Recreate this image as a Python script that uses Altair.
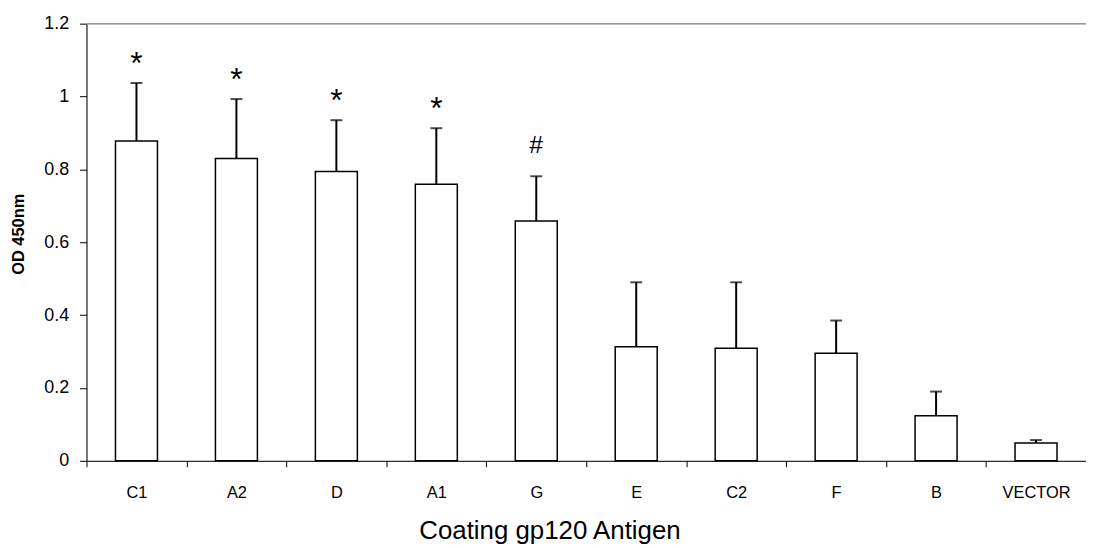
import altair as alt
import pandas as pd

categories = ["C1", "A2", "D", "A1", "G", "E", "C2", "F", "B", "VECTOR"]
means = [0.878, 0.830, 0.794, 0.759, 0.658, 0.313, 0.309, 0.295, 0.124, 0.049]
upper = [1.037, 0.993, 0.935, 0.913, 0.781, 0.490, 0.490, 0.385, 0.190, 0.057]
marks = ["*", "*", "*", "*", "#", "", "", "", "", ""]
yticks = [0, 0.2, 0.4, 0.6, 0.8, 1.0, 1.2]
y_title = "OD 450nm"

df = pd.DataFrame({"cat": categories, "mean": means, "upper": upper, "mark": marks})

W, H = 1006, 440
FONT = "Liberation Sans"

yscale = alt.Scale(domain=[0, 1.2], nice=False)
xscale = alt.Scale(paddingInner=0, paddingOuter=0)

xaxis = alt.Axis(title="Coating gp120 Antigen", labelAngle=0, tickBand="extent",
                 tickSize=6, tickColor="black", tickWidth=1, domainColor="black",
                 labelFontSize=16.5, labelFont=FONT, labelColor="black",
                 labelBaseline="alphabetic", labelPadding=31,
                 titleFont=FONT, titleFontSize=26, titleFontWeight="normal",
                 titleColor="black", titleBaseline="alphabetic",
                 titleX=466, titleY=78, titleAnchor="start", titleAlign="center")
yaxis = alt.Axis(title=None, values=yticks,
                 format="~g", grid=False, tickSize=7, tickColor="black",
                 domainColor="black", labelFontSize=18, labelFont=FONT,
                 labelColor="black", labelPadding=11)


def X():
    return alt.X("cat:N", sort=categories, scale=xscale, axis=xaxis)


def Y(field):
    return alt.Y(field, scale=yscale, axis=yaxis)


base = alt.Chart(df)

bars = base.mark_bar(fill="white", stroke="black", strokeWidth=1.5,
                     width=alt.RelativeBandSize(0.42)).encode(x=X(), y=Y("mean:Q"))
rules = base.mark_rule(color="black", strokeWidth=2).encode(
    x=X(), y=Y("mean:Q"), y2="upper:Q")
caps = base.mark_tick(color="black", size=12, thickness=2).encode(
    x=X(), y=Y("upper:Q"))
stars = base.transform_filter(alt.datum.mark == "*").mark_text(
    font=FONT, fontSize=32, baseline="alphabetic", dy=-9, color="black").encode(
    x=X(), y=Y("upper:Q"), text="mark:N")
hashes = base.transform_filter(alt.datum.mark == "#").mark_text(
    font=FONT, fontSize=25, baseline="alphabetic", dy=-23, color="black").encode(
    x=X(), y=Y("upper:Q"), text="mark:N")
top_line = alt.Chart(pd.DataFrame({"v": [1.2]})).mark_rule(
    color="#999999", strokeWidth=1.5).encode(y=Y("v:Q"))
ytitle = alt.Chart(pd.DataFrame({"t": [y_title]})).mark_text(
    font=FONT, fontSize=16.5, fontWeight="bold", angle=270, baseline="middle",
    align="center", color="black").encode(
    x=alt.value(-68), y=alt.value(212), text="t:N")

chart = alt.layer(bars, top_line, rules, caps, stars, hashes, ytitle).properties(
    width=W, height=H,
    autosize=alt.AutoSizeParams(type="none"),
    padding={"left": 79, "top": 14, "right": 0, "bottom": 84},
).configure_view(stroke=None).configure(background="white")

chart.save("out.html", embed_options={"renderer": "svg", "actions": False})
